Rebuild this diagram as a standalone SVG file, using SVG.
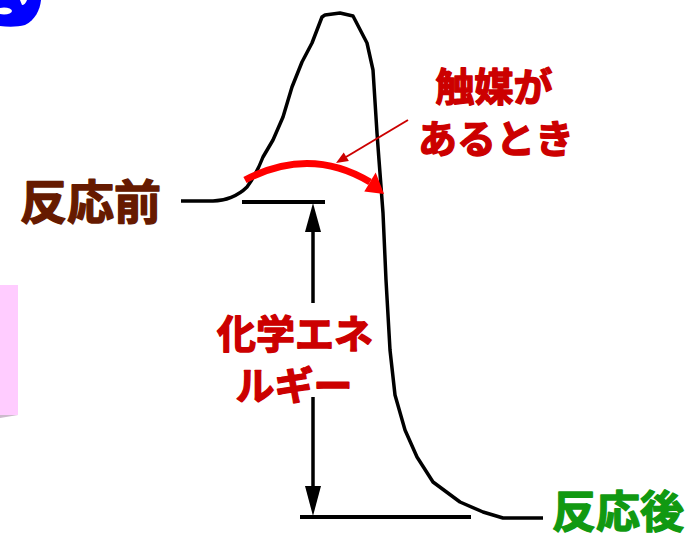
<svg xmlns="http://www.w3.org/2000/svg" width="696" height="538" viewBox="0 0 696 538">
<style>
.t{font-family:"Noto Sans CJK JP","Noto Sans",sans-serif;font-weight:bold;stroke-width:1.4;stroke-linejoin:round}
.k{fill:none;stroke:#000;stroke-width:3.5;stroke-linejoin:round;stroke-linecap:butt}
.red{fill:#cc0000;stroke:#cc0000}
</style>
<rect width="696" height="538" fill="#fff"/>
<g id="decor">
<path d="M0,0 L41,0 C40,10 35,20 25,25 C18,27 8,27 0,26 Z" fill="#0000ff"/>
<ellipse cx="4" cy="11" rx="8" ry="3.5" fill="#fff"/>
<path d="M20,0 L27,0 C26,3 24,5 22,5 Z" fill="#fff"/>
<rect x="0" y="285" width="18" height="130" fill="#ffccff"/>
<path d="M0,415 L18,415 L0,418 Z" fill="#ccbbcc"/>
</g>
<g id="connectors">
<path class="k" d="M181,201 L213,201 C225,201 238,196 247,187 C252,180 257,173 263,157 L273,140 L283,117 L292,87 L302,62 L312,43 L322,17 L325,15 L340,13 L353,16 L367,43 L373,70 L377,133 L379,160 L383,213 L386,280 L390,350 L395,395 L405,430 L417,457 L433,482 L460,502 L483,512 L503,518 L543,518"/>
<line x1="242" y1="202" x2="325" y2="202" stroke="#000" stroke-width="4"/>
<line x1="300" y1="517" x2="471" y2="517" stroke="#000" stroke-width="4"/>
<line x1="313" y1="230" x2="313" y2="303" stroke="#000" stroke-width="3.5"/>
<polygon points="313,203 305,232 321,232" fill="#000"/>
<line x1="313" y1="397" x2="313" y2="488" stroke="#000" stroke-width="3.5"/>
<polygon points="313,516 305,486 321,486" fill="#000"/>
<path d="M245,180 Q310,146 370,182" fill="none" stroke="#ff0000" stroke-width="7"/>
<polygon points="384,194 364.3,191.4 375.7,172.6" fill="#ff0000"/>
<line x1="408" y1="120" x2="346" y2="157" stroke="#cc0000" stroke-width="2"/>
<polygon points="336,163 348.9,161.1 343.7,152.5" fill="#cc0000"/>
</g>
<g id="before"><text class="t" x="20" y="219" font-size="47" fill="#661a00" stroke="#661a00">反応前</text></g>
<g id="after"><text class="t" x="552" y="528" font-size="44" fill="#119911" stroke="#119911">反応後</text></g>
<g id="catalyst">
<text class="t red" x="494" y="101" font-size="39" text-anchor="middle">触媒が</text>
<text class="t red" x="496" y="153" font-size="39" text-anchor="middle">あるとき</text>
</g>
<g id="energy">
<text class="t red" x="295" y="348" font-size="39" text-anchor="middle">化学エネ</text>
<text class="t red" x="294" y="400" font-size="39" text-anchor="middle">ルギー</text>
</g>
</svg>
